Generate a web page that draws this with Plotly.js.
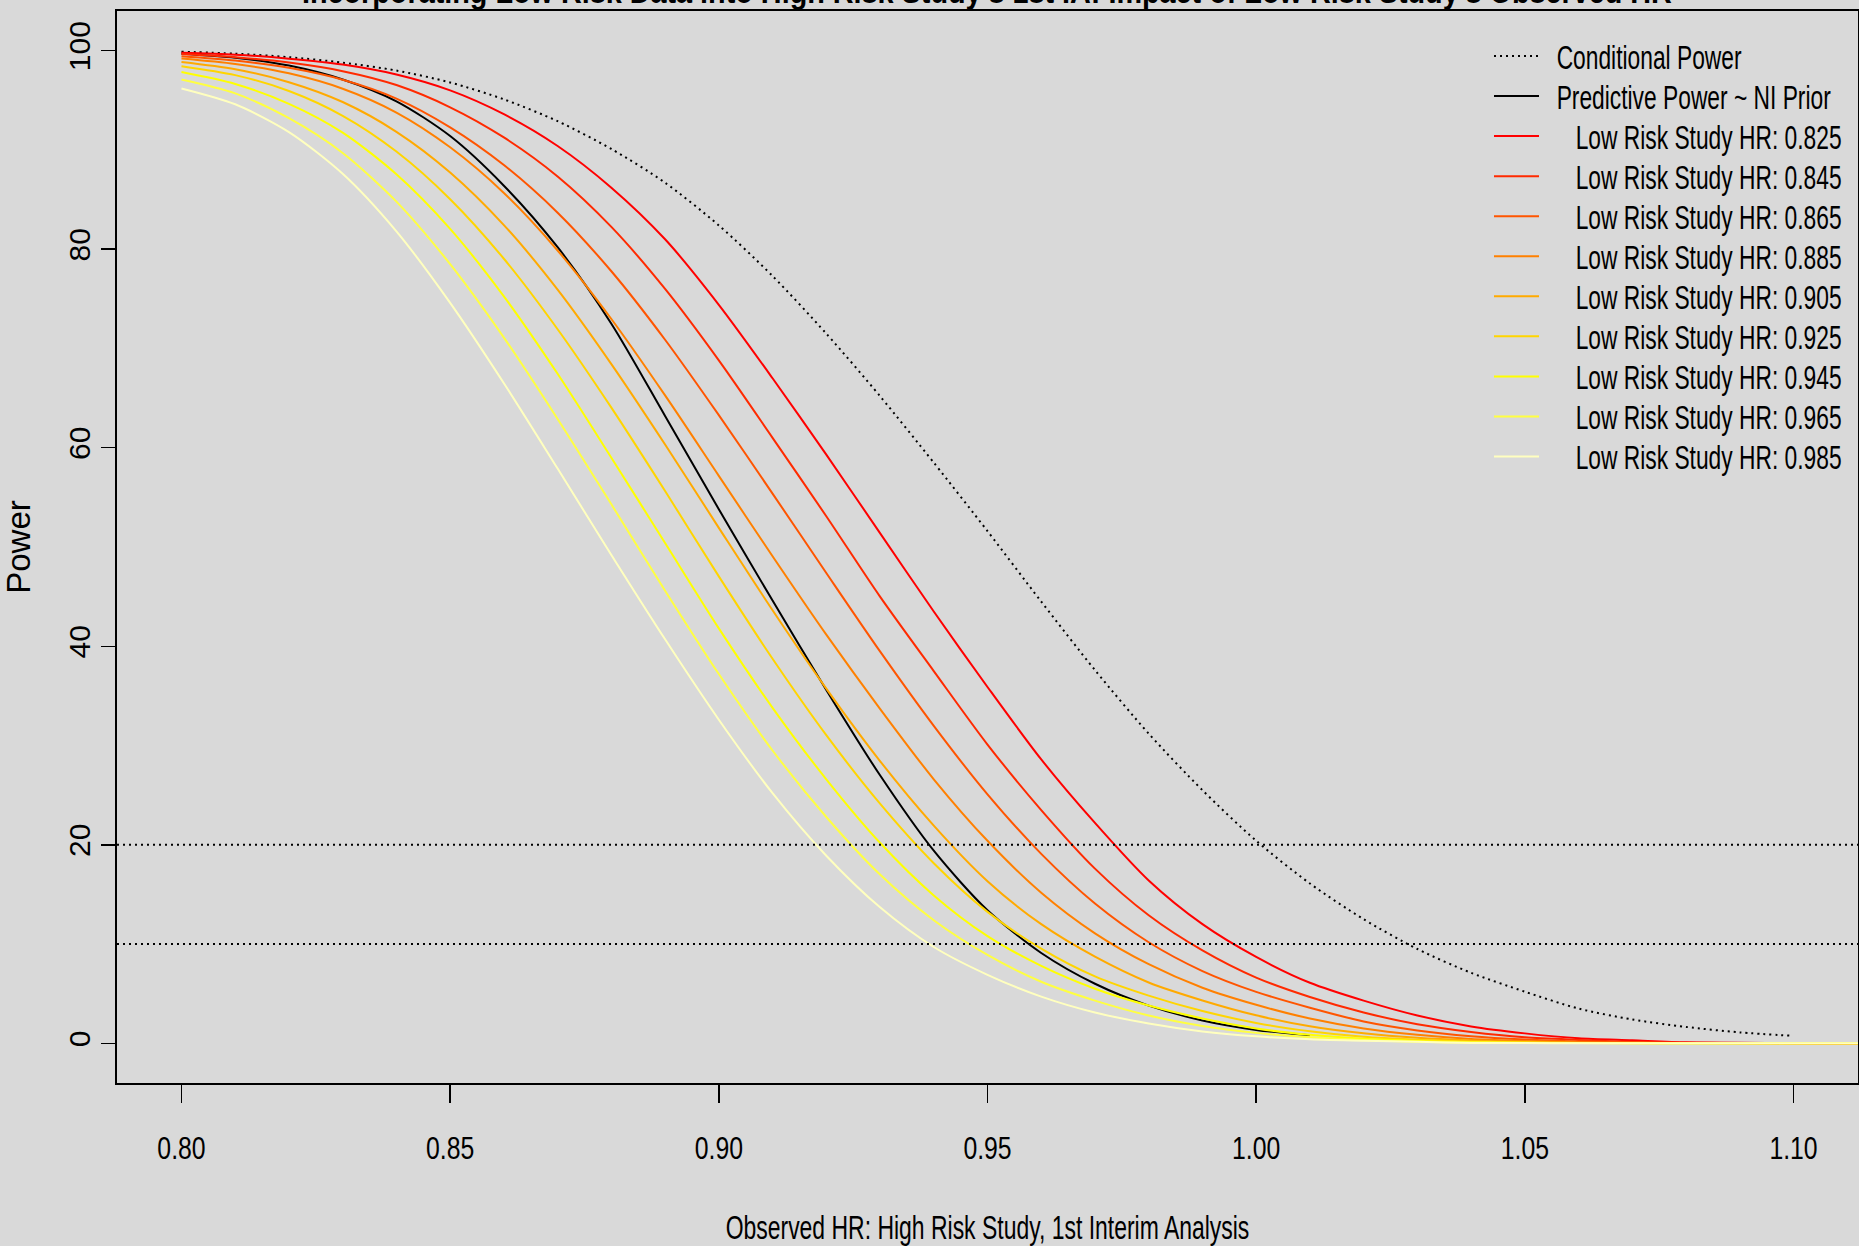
<!DOCTYPE html>
<html>
<head>
<meta charset="utf-8">
<script src="https://cdn.plot.ly/plotly-3.0.1.min.js"></script>
<style>html,body{margin:0;padding:0;background:#d9d9d9;}#chart{width:1859px;height:1246px;}</style>
</head>
<body>
<div id="chart"></div>
<script>
// Observed HR grid (x values)
const hrObs = [0.80,0.81,0.82,0.83,0.84,0.85,0.86,0.87,0.88,0.89,0.90,0.91,0.92,0.93,0.94,0.95,0.96,0.97,0.98,0.99,1.00,1.01,1.02,1.03,1.04,1.05,1.06,1.07,1.08,1.09,1.10,1.11,1.12];
const xTicks = [0.80,0.85,0.90,0.95,1.00,1.05,1.10];
const yTicks = [0,20,40,60,80,100];
const refLines = [20,10];

const conditionalPower = [99.9,99.7,99.35,98.8,98.0,96.8,95.1,92.9,90.1,86.7,82.4,77.3,71.5,65.2,58.5,51.6,44.5,37.6,31.2,25.5,20.4,16.1,12.5,9.5,7.1,5.2,3.5,2.4,1.65,1.1,0.75];
const predictivePower = [99.7,99.3,98.5,97.1,94.9,91.4,86.4,80.2,72.5,63.2,53.8,44.6,35.6,27.0,19.4,13.4,9.1,6.0,3.8,2.3,1.35,0.8];

const lowRiskHR = [0.825,0.845,0.865,0.885,0.905,0.925,0.945,0.965,0.985];
const lr825 = [99.8,99.6,99.2,98.6,97.6,96.0,93.6,90.4,86.2,81.0,74.4,67.0,59.3,51.4,43.5,35.9,28.6,22.2,16.4,12.0,8.7,6.1,4.3,2.8,1.7,1.0,0.5,0.3,0.1,0.05,0.02,0.01,0];
const lr845 = [99.66,99.34,98.80,97.94,96.54,94.30,91.26,87.33,82.25,76.0,68.8,61.0,53.1,45.0,37.5,30.1,23.5,17.6,12.9,9.36,6.62,4.66,3.10,1.92,1.14,0.60,0.34,0.14,0.06,0.04,0.01,0,0];
const lr865 = [99.45,99.01,98.28,97.08,95.18,92.28,88.48,83.68,77.78,70.88,63.28,55.38,47.38,39.48,31.98,25.08,19.08,14.08,10.18,7.28,5.18,3.58,2.2,1.3,0.72,0.38,0.18,0.08,0.04,0.02,0.01,0,0];
const lr885 = [99.22,98.67,97.72,96.17,93.77,90.27,85.67,79.87,72.97,65.27,57.17,49.07,41.17,33.7,26.6,20.4,15.17,11.08,7.97,5.60,3.88,2.49,1.50,0.86,0.44,0.24,0.09,0.05,0.03,0.01,0,0,0];
const lr905 = [98.86,98.13,96.83,94.83,91.83,87.73,82.43,75.93,68.43,60.33,51.93,43.63,35.73,28.43,21.93,16.33,12.0,8.73,6.13,4.32,2.82,1.71,1.01,0.55,0.28,0.12,0.06,0.03,0.02,0.01,0,0,0];
const lr925 = [98.44,97.54,95.94,93.44,89.84,85.04,79.04,71.94,64.04,55.64,47.04,38.74,31.04,24.14,18.14,13.24,9.54,6.74,4.8,3.25,2.05,1.22,0.66,0.36,0.16,0.07,0.04,0.02,0.01,0,0,0,0];
const lr945 = [97.85,96.65,94.65,91.75,87.55,82.05,75.25,67.45,59.0,50.4,41.8,33.8,26.6,20.2,14.9,10.8,7.8,5.5,3.8,2.5,1.5,0.85,0.45,0.23,0.1,0.05,0.03,0.01,0.01,0,0,0,0];
const lr965 = [97.1,95.7,93.2,89.7,84.8,78.5,71.1,62.9,54.3,45.6,37.2,29.5,22.8,17.0,12.4,8.9,6.2,4.3,2.8,1.75,1.05,0.6,0.32,0.15,0.07,0.03,0.02,0.01,0,0,0,0,0];
const lr985 = [96.2,94.6,91.8,87.6,81.8,74.6,66.5,57.9,49.2,40.7,32.6,25.2,18.9,13.7,9.7,6.9,4.7,3.1,2.0,1.2,0.7,0.4,0.25,0.15,0.04,0.02,0.01,0.01,0,0,0,0,0];
const lowRiskSeries = [lr825,lr845,lr865,lr885,lr905,lr925,lr945,lr965,lr985];
const heatColors = ["#FF0000","#FF2A00","#FF5500","#FF8000","#FFAA00","#FFD500","#FFFF00","#FFFF40","#FFFFBF"];

const FONT = '"Liberation Sans", Arial, sans-serif';
const sp = '\u00a0';

const traces = [];
traces.push({
  x: hrObs.slice(0, conditionalPower.length), y: conditionalPower,
  type: 'scatter', mode: 'lines', name: sp + sp + 'Conditional Power',
  line: {color: '#000000', width: 2, dash: '2px,4px', shape: 'spline', smoothing: 0.8}
});
traces.push({
  x: hrObs.slice(0, predictivePower.length), y: predictivePower,
  type: 'scatter', mode: 'lines', name: sp + sp + 'Predictive Power ~ NI Prior',
  line: {color: '#000000', width: 2, shape: 'spline', smoothing: 0.8}
});
lowRiskSeries.forEach((ys, i) => {
  traces.push({
    x: hrObs.slice(0, ys.length), y: ys,
    type: 'scatter', mode: 'lines',
    name: sp + sp + sp + sp + sp + 'Low Risk Study HR: ' + lowRiskHR[i].toFixed(3),
    line: {color: heatColors[i], width: 2, shape: 'spline', smoothing: 0.8}
  });
});

const layout = {
  width: 1859, height: 1246,
  paper_bgcolor: '#d9d9d9', plot_bgcolor: '#d9d9d9',
  margin: {l: 117, r: 1, t: 11, b: 163, pad: 0, autoexpand: false},
  showlegend: true,
  legend: {
    x: 0.5, xanchor: 'left', y: 0.99, yanchor: 'top',
    bgcolor: 'rgba(0,0,0,0)', borderwidth: 0,
    font: {family: FONT, size: 28.5, color: '#000000'},
    itemwidth: 45, traceorder: 'normal'
  },
  xaxis: {
    range: [0.788, 1.112], tickvals: xTicks, ticktext: xTicks.map(v => v.toFixed(2)),
    ticks: 'outside', ticklen: 18, tickwidth: 1.5, tickcolor: '#000000',
    showline: true, linecolor: '#000000', linewidth: 2, mirror: true,
    showgrid: false, zeroline: false,
    tickfont: {family: FONT, size: 32, color: '#000000'},
    ticklabelstandoff: 18,
    title: {text: 'Observed HR: High Risk Study, 1st Interim Analysis', font: {family: FONT, size: 34, color: '#000000'}, standoff: 52}
  },
  yaxis: {
    range: [-4, 104], tickvals: yTicks, ticktext: yTicks.map(String),
    ticks: 'outside', ticklen: 14, tickwidth: 1.5, tickcolor: '#000000', tickangle: -90,
    showline: true, linecolor: '#000000', linewidth: 2, mirror: true,
    showgrid: false, zeroline: false,
    tickfont: {family: FONT, size: 30, color: '#000000'},
    ticklabelstandoff: -1,
    title: {text: 'Power', font: {family: FONT, size: 33, color: '#000000'}, standoff: 35}
  },
  shapes: refLines.map(v => ({
    type: 'line', xref: 'paper', x0: 0, x1: 1, yref: 'y', y0: v, y1: v,
    line: {color: '#000000', width: 2, dash: '2px,4px'}
  })),
  annotations: [{
    xref: 'paper', x: 0.5, yref: 'paper', y: 1, yanchor: 'middle', yshift: 18,
    text: "<b>Incorporating Low Risk Data into High Risk Study's 1st IA: Impact of Low Risk Study's Observed HR</b>",
    showarrow: false, font: {family: FONT, size: 34, color: '#000000'}
  }]
};

// Narrow (condensed) look of the original R device text: squeeze glyphs horizontally.
function squeeze(el, sx, sy, anchor) {
  const bb = el.getBBox();
  const cx = anchor === 'start' ? bb.x : bb.x + bb.width / 2;
  const cy = bb.y + bb.height / 2;
  const prev = el.getAttribute('transform') || '';
  el.setAttribute('transform', prev + ' translate(' + cx + ',' + cy + ') scale(' + sx + ',' + sy + ') translate(' + (-cx) + ',' + (-cy) + ')');
}

Plotly.newPlot('chart', traces, layout, {staticPlot: true, displayModeBar: false}).then(() => {
  document.querySelectorAll('.xtick text').forEach(t => squeeze(t, 0.775, 1, 'middle'));
  document.querySelectorAll('.legendtext').forEach(t => squeeze(t, 0.80, 1.16, 'start'));
  const xt = document.querySelector('.xtitle');
  if (xt) squeeze(xt, 0.675, 1, 'middle');
  // title: squeeze to the original width and place its baseline just inside the top edge
  const tt = document.querySelector('.annotation-text');
  if (tt) {
    const w = tt.getBBox().width;
    squeeze(tt, 1370 / w, 1, 'middle');
    const r = tt.getBoundingClientRect();
    const prev = tt.getAttribute('transform') || '';
    tt.setAttribute('transform', 'translate(' + (987 - (r.left + r.right) / 2) + ',' + (11 - r.bottom) + ') ' + prev);
  }
  // legend: first line sample starts at x=1494, first row centred at y=56
  const lg = document.querySelector('.legend');
  const firstLine = document.querySelector('.legend .legendlines path');
  if (lg && firstLine) {
    const r = firstLine.getBoundingClientRect();
    const dx = 1494 - r.left, dy = 56 - (r.top + r.bottom) / 2;
    lg.setAttribute('transform', (lg.getAttribute('transform') || '') + ' translate(' + dx + ',' + dy + ')');
  }
});
</script>
</body>
</html>
